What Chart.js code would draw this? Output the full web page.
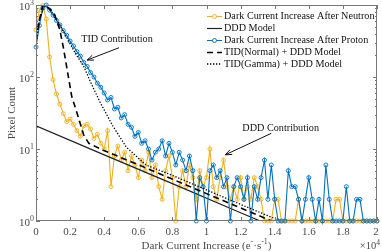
<!DOCTYPE html>
<html>
<head>
<meta charset="utf-8">
<script src="https://cdn.jsdelivr.net/npm/chart.js@4"></script>
<style>
  html, body { margin: 0; padding: 0; background: #fff; }
</style>
</head>
<body>
<canvas id="c" width="382" height="251"></canvas>
<script>
// bin positions, in units of 1e4 e-/s
const bins = [0, 0.02, 0.04, 0.06, 0.08, 0.10, 0.12, 0.14, 0.16, 0.18,
  0.20, 0.22, 0.24, 0.26, 0.28, 0.30, 0.32, 0.34, 0.36, 0.38,
  0.40, 0.42, 0.44, 0.46, 0.48, 0.50, 0.52, 0.54, 0.56, 0.58,
  0.60, 0.62, 0.64, 0.66, 0.68, 0.70, 0.72, 0.74, 0.76, 0.78,
  0.80, 0.82, 0.84, 0.86, 0.88, 0.90, 0.92, 0.94, 0.96, 0.98,
  1.00, 1.02, 1.04, 1.06, 1.08, 1.10, 1.12, 1.14, 1.16, 1.18,
  1.20, 1.22, 1.24, 1.26, 1.28, 1.30, 1.32, 1.34, 1.36, 1.38,
  1.40, 1.42, 1.44, 1.46, 1.48, 1.50, 1.52, 1.54, 1.56, 1.58,
  1.60, 1.62, 1.64, 1.66, 1.68, 1.70, 1.72, 1.74, 1.76, 1.78,
  1.80, 1.82, 1.84, 1.86, 1.88, 1.90, 1.92, 1.94, 1.96, 1.98, 2.00];

const neutron = [450, 850, 980, 640, 190, 92, 58, 42, 31, 24,
  26, 22, 18, 15, 21, 22, 19, 14, 16, 12,
  10, 18, 3, 8, 11, 7, 9, 5, 8, 6,
  4, 7, 5, 9, 4, 6, 3, 2, 5, 8,
  4, 1, 3, 5, 3, 6, 4, 2, 5, 3,
  4, 10, 3, 2, 4, 7, 3, 2, 3, 2,
  4, 2, 3, 2, 4, 3, 2, 1, 1, 1,
  2, 2, 1, 1, 1, 1, 1, 2, 1, 1,
  1, 1, 1, 1, 1, 1, 1, 1, 2, 2,
  1, 1, 1, 1, 1, 1, 1, 1, 1, 1, 1];

const proton = [260, 520, 900, 1000, 850, 720, 610, 530, 440, 380,
  315, 270, 225, 195, 160, 140, 115, 100, 82, 72,
  60, 48, 52, 36, 38, 27, 30, 22, 20, 15,
  17, 12, 13, 10, 7, 9, 10, 13, 8, 12,
  9, 6, 9, 7, 5, 8, 5, 1, 4, 3,
  1, 5, 6, 4, 5, 3, 4, 1, 3, 4,
  3, 2, 4, 1, 3, 2, 4, 7, 2, 6,
  2, 1, 1, 1, 5, 3, 3, 2, 1, 2,
  4, 2, 1, 2, 1, 6, 2, 1, 1, 1,
  1, 3, 1, 1, 2, 2, 1, 1, 1, 1, 1];

// model curves
const dddX = [0, 0.4, 0.8, 1.2, 1.6];
const dddY = [21, 8.3, 3.3, 1.3, 0.52];

const normX = [0, 0.02, 0.04, 0.08, 0.11, 0.14, 0.16, 0.18, 0.21, 0.235, 0.28, 0.31, 0.39, 0.6, 1.0, 1.4, 1.6];
const normY = [330, 620, 1000, 880, 730, 450, 260, 138, 53, 35, 15.6, 12, 9.7, 6.05, 2.4, 0.96, 0.6];

const gammaX = [0, 0.02, 0.05, 0.08, 0.14, 0.2, 0.23, 0.28, 0.32, 0.375, 0.45, 0.53, 0.645, 0.8, 1.0, 1.2, 1.4, 1.6];
const gammaY = [280, 620, 1000, 900, 527, 290, 215, 140, 85, 45, 21, 10.6, 6.0, 4.3, 2.7, 1.7, 1.08, 0.68];

const xTicks = [0, 0.2, 0.4, 0.6, 0.8, 1, 1.2, 1.4, 1.6, 1.8, 2];
const xTickLabels = ['0', '0.2', '0.4', '0.6', '0.8', '1', '1.2', '1.4', '1.6', '1.8', '2'];

const YELLOW = '#EDB120', BLUE = '#0072BD';
const SERIF = '"Liberation Serif", "DejaVu Serif", serif';
const AXIS = '#777';
const LEG = 10.2;

const pts = (xs, ys) => xs.map((x, i) => ({ x, y: ys[i] }));

// text with superscript parts: [[text, isSup], ...]
function rich(ctx, parts, x, y, align, size) {
  const sub = size * 0.72;
  let w = 0;
  parts.forEach(p => { ctx.font = (p[1] ? sub : size) + 'px ' + SERIF; w += ctx.measureText(p[0]).width; });
  let cx = align === 'right' ? x - w : align === 'center' ? x - w / 2 : x;
  ctx.textAlign = 'left';
  ctx.textBaseline = 'alphabetic';
  parts.forEach(p => {
    ctx.font = (p[1] ? sub : size) + 'px ' + SERIF;
    ctx.fillText(p[0], cx, p[1] ? y - size * 0.42 : y);
    cx += ctx.measureText(p[0]).width;
  });
}

function arrow(ctx, x1, y1, x2, y2) {
  ctx.beginPath(); ctx.moveTo(x1, y1); ctx.lineTo(x2, y2); ctx.stroke();
  const a = Math.atan2(y2 - y1, x2 - x1), L = 7, s = 0.38;
  ctx.beginPath();
  ctx.moveTo(x2, y2);
  ctx.lineTo(x2 - L * Math.cos(a - s), y2 - L * Math.sin(a - s));
  ctx.moveTo(x2, y2);
  ctx.lineTo(x2 - L * Math.cos(a + s), y2 - L * Math.sin(a + s));
  ctx.stroke();
}

const decor = {
  id: 'decor',
  afterDraw(chart) {
    const { ctx, chartArea: { left, right, top, bottom } } = chart;
    const xs = chart.scales.x, ys = chart.scales.y;
    ctx.save();

    // box + inward ticks
    ctx.strokeStyle = AXIS; ctx.lineWidth = 1;
    ctx.strokeRect(left + 0.5, top + 0.5, right - left - 1, bottom - top - 1);
    ctx.beginPath();
    xTicks.forEach(v => {
      const px = Math.round(xs.getPixelForValue(v)) + 0.5;
      ctx.moveTo(px, bottom); ctx.lineTo(px, bottom - 4);
      ctx.moveTo(px, top); ctx.lineTo(px, top + 4);
    });
    for (let e = 0; e < 3; e++) {
      for (let m = 1; m <= 9; m++) {
        const py = Math.round(ys.getPixelForValue(m * Math.pow(10, e))) + 0.5;
        const len = m === 1 ? 4 : 2;
        ctx.moveTo(left, py); ctx.lineTo(left + len, py);
        ctx.moveTo(right, py); ctx.lineTo(right - len, py);
      }
    }
    const pTop = Math.round(ys.getPixelForValue(1000)) + 0.5;
    ctx.moveTo(left, pTop); ctx.lineTo(left + 4, pTop);
    ctx.moveTo(right, pTop); ctx.lineTo(right - 4, pTop);
    ctx.stroke();

    // tick labels
    ctx.fillStyle = '#4a4a4a';
    ctx.font = '11px ' + SERIF;
    ctx.textAlign = 'center';
    ctx.textBaseline = 'alphabetic';
    xTicks.forEach((v, i) => {
      ctx.fillText(xTickLabels[i], Math.min(xs.getPixelForValue(v), right - 1), bottom + 14);
    });
    ['0', '1', '2', '3'].forEach((k, i) => {
      const py = ys.getPixelForValue(Math.pow(10, i));
      rich(ctx, [['10', false], [k, true]], left - 2, py + 4.5, 'right', 11);
    });

    // axis titles
    rich(ctx, [['Dark Current Increase (e', false], ['-', true], ['\u00b7s', false], ['-1', true], [')', false]],
      (left + right) / 2, 249, 'center', 11);
    rich(ctx, [['\u00d710', false], ['4', true]], right + 3, 249, 'right', 10.5);
    ctx.save();
    ctx.translate(15, (top + bottom) / 2);
    ctx.rotate(-Math.PI / 2);
    ctx.font = '11px ' + SERIF;
    ctx.textAlign = 'center';
    ctx.textBaseline = 'alphabetic';
    ctx.fillText('Pixel Count', 0, 0);
    ctx.restore();

    // annotations
    ctx.fillStyle = '#111'; ctx.strokeStyle = '#111'; ctx.lineWidth = 1;
    ctx.font = LEG + 'px ' + SERIF;
    ctx.textAlign = 'left'; ctx.textBaseline = 'alphabetic';
    ctx.fillText('TID Contribution', xs.getPixelForValue(0.265), ys.getPixelForValue(310));
    arrow(ctx, xs.getPixelForValue(0.487), ys.getPixelForValue(255), xs.getPixelForValue(0.30), ys.getPixelForValue(172));
    ctx.fillText('DDD Contribution', xs.getPixelForValue(1.21), ys.getPixelForValue(18));
    arrow(ctx, xs.getPixelForValue(1.38), ys.getPixelForValue(16.5), xs.getPixelForValue(1.11), ys.getPixelForValue(8.3));

    // legend
    const rowsY = [16, 28, 40, 52, 63.5];
    chart.data.datasets.forEach((ds, r) => {
      const y = rowsY[r] + 0.5;
      ctx.strokeStyle = ds.borderColor;
      ctx.lineWidth = ds.borderWidth;
      ctx.setLineDash(ds.borderDash || []);
      ctx.beginPath(); ctx.moveTo(207, y); ctx.lineTo(222, y); ctx.stroke();
      ctx.setLineDash([]);
      if (ds.pointRadius > 0) {
        ctx.lineWidth = ds.pointBorderWidth;
        ctx.beginPath(); ctx.arc(214.5, y, ds.pointRadius, 0, Math.PI * 2);
        ctx.fillStyle = '#fff'; ctx.fill(); ctx.stroke();
      }
      ctx.fillStyle = '#111';
      ctx.font = LEG + 'px ' + SERIF;
      ctx.textBaseline = 'middle';
      ctx.fillText(ds.label, 224, y);
    });
    ctx.restore();
  }
};

new Chart(document.getElementById('c'), {
  type: 'line',
  data: {
    datasets: [
      { label: 'Dark Current Increase After Neutron', data: pts(bins, neutron),
        borderColor: YELLOW, borderWidth: 1.1, pointRadius: 2, pointBorderWidth: 0.9,
        pointBorderColor: YELLOW, pointBackgroundColor: 'rgba(255,255,255,0)', clip: 4, order: 4 },
      { label: 'DDD Model', data: pts(dddX, dddY),
        borderColor: '#222', borderWidth: 1.2, pointRadius: 0, order: 3 },
      { label: 'Dark Current Increase After Proton', data: pts(bins, proton),
        borderColor: BLUE, borderWidth: 1.1, pointRadius: 2, pointBorderWidth: 0.9,
        pointBorderColor: BLUE, pointBackgroundColor: 'rgba(255,255,255,0)', clip: 4, order: 2 },
      { label: 'TID(Normal) + DDD Model', data: pts(normX, normY),
        borderColor: '#000', borderWidth: 1.6, borderDash: [6, 4], pointRadius: 0, order: 1 },
      { label: 'TID(Gamma) + DDD Model', data: pts(gammaX, gammaY),
        borderColor: '#000', borderWidth: 1.3, borderDash: [1.3, 1.7], pointRadius: 0, order: 0 }
    ]
  },
  options: {
    responsive: false,
    animation: false,
    devicePixelRatio: 1,
    layout: { padding: { top: 5, right: 5, left: 0, bottom: 0 } },
    plugins: { legend: { display: false }, tooltip: { enabled: false } },
    scales: {
      x: {
        type: 'linear', min: 0, max: 2,
        afterFit(s) { s.height = 30; },
        grid: { display: false, drawTicks: false },
        border: { display: false },
        ticks: { display: false }
      },
      y: {
        type: 'logarithmic', min: 1, max: 1000,
        afterFit(s) { s.width = 36; },
        grid: { display: false, drawTicks: false },
        border: { display: false },
        ticks: { display: false }
      }
    }
  },
  plugins: [decor]
});
</script>
</body>
</html>
